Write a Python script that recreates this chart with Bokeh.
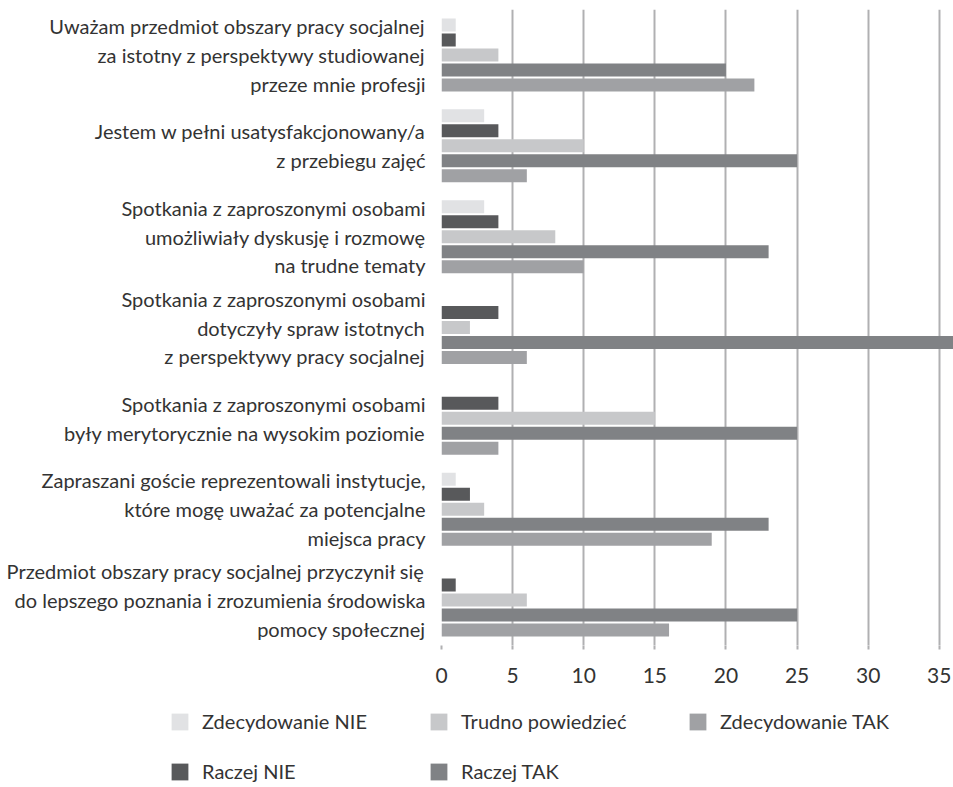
from bokeh.plotting import figure
from bokeh.models import FactorRange, Range1d, Legend, LegendItem, ColumnDataSource
from bokeh.transform import dodge
from bokeh.embed import file_html
from bokeh.resources import INLINE

categories = [
    "Uważam przedmiot obszary pracy socjalnej\nza istotny z perspektywy studiowanej\nprzeze mnie profesji",
    "Jestem w pełni usatysfakcjonowany/a\nz przebiegu zajęć",
    "Spotkania z zaproszonymi osobami\numożliwiały dyskusję i rozmowę\nna trudne tematy",
    "Spotkania z zaproszonymi osobami\ndotyczyły spraw istotnych\nz perspektywy pracy socjalnej",
    "Spotkania z zaproszonymi osobami\nbyły merytorycznie na wysokim poziomie",
    "Zapraszani goście reprezentowali instytucje,\nktóre mogę uważać za potencjalne\nmiejsca pracy",
    "Przedmiot obszary pracy socjalnej przyczynił się\ndo lepszego poznania i zrozumienia środowiska\npomocy społecznej",
]

series_names = ["Zdecydowanie NIE", "Raczej NIE", "Trudno powiedzieć", "Raczej TAK", "Zdecydowanie TAK"]
zdecydowanie_nie = [1, 3, 3, 0, 0, 1, 0]
raczej_nie = [1, 4, 4, 4, 4, 2, 1]
trudno_powiedziec = [4, 10, 8, 2, 15, 3, 6]
raczej_tak = [20, 25, 23, 36, 25, 23, 25]
zdecydowanie_tak = [22, 6, 10, 6, 4, 19, 16]

colors = ["#e1e2e4", "#58595b", "#c7c8ca", "#808285", "#a0a1a4"]
x_ticks = [0, 5, 10, 15, 20, 25, 30, 35]

source = ColumnDataSource(dict(
    cat=categories,
    zn=zdecydowanie_nie,
    rn=raczej_nie,
    tp=trudno_powiedziec,
    rt=raczej_tak,
    zt=zdecydowanie_tak,
))

p = figure(
    width=953, height=700,
    y_range=FactorRange(factors=list(reversed(categories))),
    x_range=Range1d(0, 36),
    output_backend="svg", toolbar_location=None,
    min_border_left=441, min_border_right=0, min_border_top=9, min_border_bottom=55,
)
p.outline_line_color = None

unit = 636.0
pitch = 15.0 / (unit / 7.0)
bar_h = 13.0 / (unit / 7.0)
cols = ["zn", "rn", "tp", "rt", "zt"]
for i, (c, col) in enumerate(zip(cols, colors)):
    off = (2 - i) * pitch
    p.hbar(y=dodge("cat", off, range=p.y_range), left=0, right=c, height=bar_h,
           source=source, fill_color=col, line_color=None)

p.ygrid.grid_line_color = None
p.xgrid.ticker = x_ticks
p.xgrid.grid_line_color = "#b0b0b2"
p.xgrid.grid_line_width = 2

p.xaxis.ticker = x_ticks
p.xaxis.axis_line_color = None
p.xaxis.major_tick_in = 0
p.xaxis.major_tick_out = 4
p.xaxis.major_tick_line_color = "#b0b0b2"
p.xaxis.major_tick_line_width = 2
p.xaxis.minor_tick_line_color = None
p.xaxis.major_label_text_font = "Lato"
p.xaxis.major_label_text_font_size = "21px"
p.xaxis.major_label_text_color = "#333333"
p.xaxis.major_label_standoff = 18

p.yaxis.axis_line_color = None
p.yaxis.major_tick_line_color = None
p.yaxis.minor_tick_line_color = None
p.yaxis.major_label_text_font = "Lato"
p.yaxis.major_label_text_font_size = "20px"
p.yaxis.major_label_text_color = "#333333"
p.yaxis.major_label_text_line_height = 1.2
p.yaxis.major_label_standoff = 10

# legend figure (separate root, so its frame is not aligned with the chart's)
pl = figure(width=953, height=87, x_range=Range1d(0, 1), y_range=Range1d(0, 1),
            output_backend="svg", toolbar_location=None,
            min_border_left=0, min_border_right=0, min_border_top=0, min_border_bottom=0)
pl.axis.visible = False
pl.grid.visible = False
pl.outline_line_color = None
leg_src = ColumnDataSource(dict(y=[-5], r=[-5]))
items = []
for n, col in zip(series_names, colors):
    r = pl.hbar(y="y", right="r", left=-6, height=0.1, source=leg_src, fill_color=col, line_color=None)
    items.append(LegendItem(label=n, renderers=[r]))

legend = Legend(items=items, orientation="vertical", nrows=2, location=(169, 4))
legend.border_line_color = None
legend.background_fill_alpha = 0
legend.padding = 0
legend.margin = 0
legend.spacing = 26
legend.label_text_font = "Lato"
legend.label_text_font_size = "20px"
legend.label_text_color = "#333333"
legend.label_height = 21
legend.label_width = 200
legend.glyph_width = 21
legend.glyph_height = 21
legend.label_standoff = 12
pl.add_layout(legend, "center")

open("out.html", "w").write(file_html([p, pl], INLINE))
